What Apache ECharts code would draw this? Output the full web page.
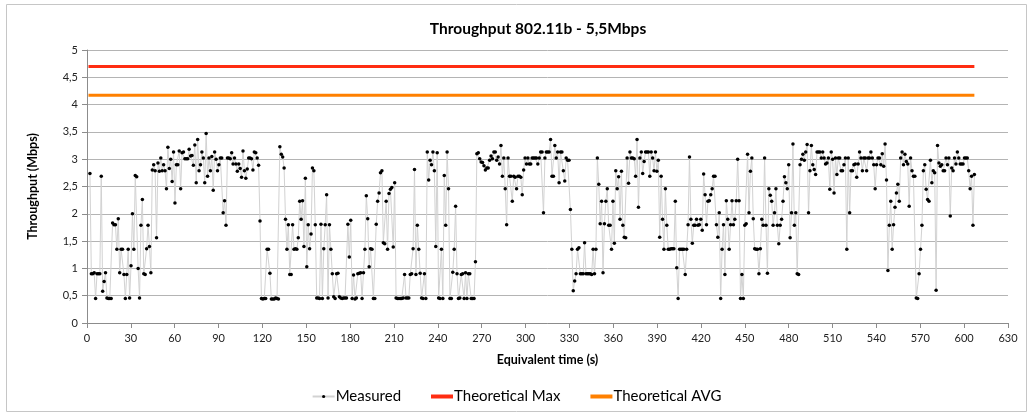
<!DOCTYPE html>
<html>
<head>
<meta charset="utf-8">
<script src="https://cdn.jsdelivr.net/npm/echarts@6/dist/echarts.min.js"></script>
<style>
html,body{margin:0;padding:0;background:#fff;}
#chart{width:1033px;height:418px;}
</style>
</head>
<body>
<div id="chart"></div>
<script>
// ---- Data ----
const chartTitle = "Throughput 802.11b - 5,5Mbps";
const xAxisName = "Equivalent time (s)";
const yAxisName = "Throughput (Mbps)";
const seriesNames = ["Measured", "Theoretical Max", "Theoretical AVG"];

// measurement run: first and last sample time (s), samples equally spaced
const firstSampleTime = 2;
const lastSampleTime = 607;

// measured throughput (Mbps), one value per sample, in time order
const measured = [
  2.74,0.9,0.9,0.92,0.45,0.9,0.9,0.9,2.69,0.58,
  0.76,0.92,0.46,0.45,0.45,0.45,1.83,1.8,1.8,1.35,
  1.91,0.92,1.35,1.35,0.89,0.45,0.89,1.35,0.46,1.05,
  2.0,1.35,2.7,2.68,1.0,0.46,1.79,2.26,0.9,0.89,
  1.36,1.79,1.4,0.92,2.8,2.9,2.79,1.56,2.93,2.78,
  3.02,2.79,2.9,2.79,2.46,3.22,2.83,3.0,2.59,3.13,
  2.2,2.9,2.9,3.15,2.46,3.12,3.13,3.01,3.01,
  3.01,3.18,3.06,3.07,2.89,3.26,2.57,3.36,2.79,2.9,
  3.13,3.02,2.57,3.47,2.69,3.02,2.79,3.05,2.43,3.13,
  3.0,2.79,2.9,3.02,3.02,2.02,2.24,1.79,3.02,3.02,
  3.01,3.12,2.91,3.02,2.91,2.78,2.91,2.83,2.67,3.15,
  2.79,2.65,2.82,3.02,3.02,3.01,2.8,3.13,3.12,3.02,
  2.89,1.87,0.45,0.44,0.45,0.45,1.35,1.35,0.91,0.44,
  0.44,0.44,0.46,0.45,0.44,3.23,3.09,3.04,2.84,1.9,
  1.35,1.8,0.89,
  0.89,1.8,1.35,1.36,1.35,1.56,2.23,1.9,2.24,1.4,
  2.65,1.03,1.8,1.36,1.63,2.84,2.79,1.8,0.46,0.46,
  0.45,1.81,0.45,1.36,1.8,2.35,0.46,1.8,1.35,0.9,
  0.48,0.45,0.9,0.91,0.48,0.46,0.45,0.46,0.46,0.46,
  1.81,1.21,1.88,0.45,0.88,0.44,0.46,0.9,0.91,0.92,
  0.45,0.92,1.35,2.33,1.91,1.03,1.36,1.35,0.45,0.45,
  1.81,2.23,2.38,2.75,2.79,1.47,1.45,2.23,1.35,2.37,
  2.45,2.48,1.39,2.57,
  0.46,0.45,0.45,0.45,0.45,0.46,0.89,0.46,0.46,0.46,
  0.89,0.9,1.36,2.81,0.89,1.79,1.35,0.91,0.46,0.45,
  0.9,0.45,3.13,2.62,2.98,2.9,3.13,2.79,1.4,3.12,
  0.46,0.45,1.35,0.45,2.7,1.79,3.13,2.46,0.45,0.45,
  0.93,1.35,2.14,0.9,0.45,0.46,0.89,0.9,0.45,0.92,
  0.45,0.9,0.9,0.45,0.45,0.45,1.12,3.1,3.12,3.01,
  2.95,2.94,2.88,2.8,2.84,2.84,2.98,3.06,3.01,3.13,
  3.13,2.98,3.04,2.91,3.25,2.69,
  3.02,2.46,1.8,3.02,2.69,2.69,2.23,2.69,2.67,2.46,
  2.69,2.69,2.67,2.35,2.8,3.02,2.91,3.02,2.91,2.91,
  3.02,3.02,3.02,3.02,2.91,3.02,3.13,3.13,2.02,3.02,
  3.13,3.13,3.13,3.36,2.69,2.69,3.25,3.02,3.13,2.57,
  3.13,3.13,2.79,2.6,3.02,2.98,2.98,2.08,1.35,0.59,
  0.77,0.9,1.35,1.38,0.9,0.9,0.9,1.47,0.9,0.9,
  0.9,0.9,0.89,1.35,0.9,1.35,3.02,2.54,1.82,2.23,
  0.92,1.82,2.23,2.46,1.79,
  1.79,1.35,2.23,1.46,2.79,2.46,2.68,1.9,2.78,1.79,
  1.57,1.56,3.02,2.56,3.13,3.02,3.02,3.01,2.69,3.36,
  2.12,3.02,3.13,2.74,2.96,3.13,3.13,3.13,2.69,3.13,
  3.02,2.79,3.13,2.78,2.98,1.57,2.69,1.9,1.35,2.46,
  1.79,1.35,1.35,1.36,1.36,1.36,2.23,1.01,0.45,1.35,
  1.35,1.35,1.35,0.89,1.35,1.8,3.04,1.9,1.46,1.79,
  1.79,1.9,1.79,1.8,1.9,1.7,2.73,2.35,1.8,2.23,
  2.24,2.35,2.46,
  2.69,2.69,1.8,1.57,2.02,0.45,1.35,1.8,0.89,2.24,
  1.9,1.35,1.8,2.24,1.8,1.9,2.24,3.0,2.24,0.45,
  0.89,0.45,1.79,1.82,3.09,2.02,2.78,3.02,1.91,1.36,
  1.35,1.35,0.9,1.36,1.9,1.79,3.02,1.79,0.91,2.46,
  2.34,2.23,1.79,2.02,2.46,1.79,1.45,1.79,1.9,2.23,
  2.68,2.57,2.46,2.9,1.56,2.02,3.28,1.79,2.02,0.9,
  0.89,2.9,3.0,3.09,2.98,3.13,3.27,2.02,2.79,3.25,
  2.9,2.81,2.72,
  3.13,3.13,3.13,3.02,3.13,3.02,2.91,2.93,3.02,2.45,
  3.13,3.0,2.38,3.02,2.72,3.02,3.02,2.79,2.79,2.9,
  3.02,1.35,3.02,2.02,2.79,2.79,2.9,2.91,2.67,2.91,
  3.13,3.02,2.79,3.02,3.02,2.79,3.02,3.02,3.13,3.02,
  2.9,2.46,2.9,3.02,3.02,2.9,3.1,2.87,3.28,2.62,
  0.96,1.79,2.23,1.35,1.8,2.12,2.38,2.54,2.23,3.02,
  3.13,2.9,3.09,2.96,2.91,2.14,3.02,2.79,2.69,2.69,
  0.46,0.45,0.9,1.35,1.79,
  2.79,2.9,2.45,2.26,2.23,2.98,2.57,2.79,2.75,0.6,
  3.25,2.93,2.87,2.9,2.79,2.79,3.02,2.9,3.02,1.96,
  2.84,2.79,3.02,2.91,3.13,3.02,2.91,2.91,2.91,3.02,
  3.02,3.02,2.79,2.46,2.69,1.79,2.72
];

// theoretical reference levels (Mbps) and the time span they are drawn over (s)
const theoreticalMax = 4.7;
const theoreticalAvg = 4.17;
const referenceSpan = [1, 607];

// axis ticks
const xTicks = [0,30,60,90,120,150,180,210,240,270,300,330,360,390,420,450,480,510,540,570,600,630];
const yTicks = [0,0.5,1,1.5,2,2.5,3,3.5,4,4.5,5];

// ---- build chart ----
const step = (lastSampleTime - firstSampleTime) / (measured.length - 1);
const measuredData = measured.map((v, i) => [firstSampleTime + i * step, v]);
const maxData = referenceSpan.map(t => [t, theoreticalMax]);
const avgData = referenceSpan.map(t => [t, theoreticalAvg]);

const FONT = "Lato, 'Open Sans', 'Liberation Sans', sans-serif";
const chart = echarts.init(document.getElementById('chart'), null, {renderer: 'canvas'});
chart.setOption({
  animation: false,
  backgroundColor: '#ffffff',
  textStyle: {fontFamily: FONT},
  graphic: [{
    type: 'rect', z: -10, silent: true,
    shape: {x: 6.5, y: 4.5, width: 1020, height: 407},
    style: {fill: 'none', stroke: '#c6c6c6', lineWidth: 1}
  }],
  title: {
    text: chartTitle,
    left: 533, textAlign: 'center', top: 16,
    textStyle: {fontFamily: FONT, fontSize: 15.5, fontWeight: 'bold', color: '#000'}
  },
  grid: {left: 87, right: 25, top: 50, bottom: 95, containLabel: false},
  legend: {
    bottom: 9, left: 'center',
    itemWidth: 22, itemHeight: 4, itemGap: 30,
    textStyle: {fontFamily: FONT, fontSize: 15, color: '#000', padding: [0,0,0,-4]},
    data: [
      {name: seriesNames[0]},
      {name: seriesNames[1], icon: 'rect', itemStyle: {color: '#ff2d12'}},
      {name: seriesNames[2], icon: 'rect', itemStyle: {color: '#ff8000'}}
    ]
  },
  xAxis: {
    type: 'value', min: xTicks[0], max: xTicks[xTicks.length-1], interval: xTicks[1]-xTicks[0],
    name: xAxisName, nameLocation: 'middle', nameGap: 30,
    nameTextStyle: {fontFamily: FONT, fontSize: 12.5, fontWeight: 'bold', color: '#000'},
    axisLine: {show: true, onZero: false, lineStyle: {color: '#8c8c8c', width: 1}},
    axisTick: {show: true, length: 5, lineStyle: {color: '#8c8c8c'}},
    axisLabel: {fontFamily: FONT, fontSize: 11, color: '#222', margin: 10},
    splitLine: {show: false}
  },
  yAxis: {
    type: 'value', min: yTicks[0], max: yTicks[yTicks.length-1], interval: yTicks[1]-yTicks[0],
    name: yAxisName, nameLocation: 'middle', nameGap: 48,
    nameTextStyle: {fontFamily: FONT, fontSize: 12.5, fontWeight: 'bold', color: '#000'},
    axisLine: {show: true, lineStyle: {color: '#8c8c8c', width: 1}},
    axisTick: {show: true, length: 5, lineStyle: {color: '#8c8c8c'}},
    axisLabel: {fontFamily: FONT, fontSize: 11, color: '#222', margin: 9,
      formatter: v => String(v).replace('.', ',')},
    splitLine: {show: true, lineStyle: {color: '#b4b4b4', width: 1}}
  },
  series: [
    {
      name: seriesNames[0], type: 'line', data: measuredData,
      symbol: 'circle', symbolSize: 3.5, showSymbol: true,
      itemStyle: {color: '#000'},
      lineStyle: {color: '#d2d2d2', width: 1},
      z: 3
    },
    {
      name: seriesNames[1], type: 'line', data: maxData,
      showSymbol: false, symbol: 'none',
      itemStyle: {color: '#ff2d12'},
      lineStyle: {color: '#ff2d12', width: 3}
    },
    {
      name: seriesNames[2], type: 'line', data: avgData,
      showSymbol: false, symbol: 'none',
      itemStyle: {color: '#ff8000'},
      lineStyle: {color: '#ff8000', width: 3}
    }
  ]
});
</script>
</body>
</html>
